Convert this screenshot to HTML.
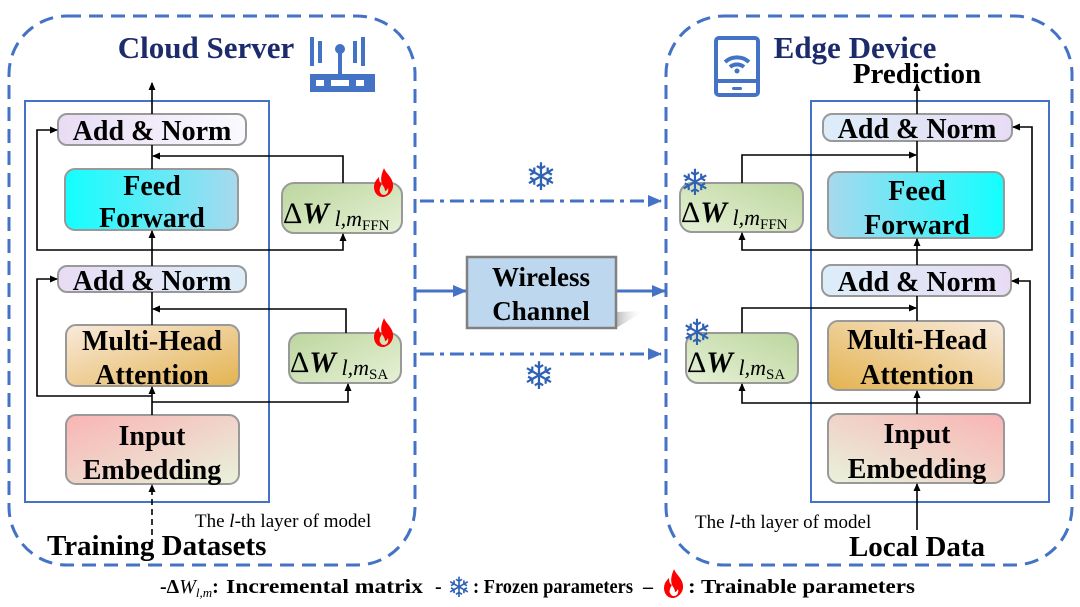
<!DOCTYPE html>
<html><head><meta charset="utf-8"><style>
html,body{margin:0;padding:0;background:#fff;}
svg{display:block;}
text{font-family:"Liberation Serif","DejaVu Serif",serif;}
.lb{font-weight:bold;font-size:28px;fill:#000;text-anchor:middle;}
.sf{font-family:"DejaVu Sans",sans-serif;fill:#2f62b4;}
</style></head><body>
<svg width="1080" height="607" viewBox="0 0 1080 607" xmlns="http://www.w3.org/2000/svg">
<defs>
<marker id="a" markerWidth="8" markerHeight="8" refX="7" refY="4" orient="auto" markerUnits="userSpaceOnUse"><path d="M0,0.5 L8,4 L0,7.5 z" fill="#000"/></marker>
<marker id="b" markerWidth="14" markerHeight="12" refX="13" refY="6" orient="auto" markerUnits="userSpaceOnUse"><path d="M0,0 L14,6 L0,12 z" fill="#4472c4"/></marker>
<linearGradient id="anL" x1="0" x2="1"><stop offset="0" stop-color="#e8dcf4"/><stop offset="1" stop-color="#fafafe"/></linearGradient>
<linearGradient id="anL2" x1="0" x2="1"><stop offset="0" stop-color="#e8dcf4"/><stop offset="1" stop-color="#dcedf8"/></linearGradient>
<linearGradient id="anR" x1="0" x2="1"><stop offset="0" stop-color="#dcedf8"/><stop offset="1" stop-color="#e8dcf4"/></linearGradient>
<linearGradient id="ffL" x1="0" x2="1"><stop offset="0" stop-color="#12ffff"/><stop offset="1" stop-color="#a8d8ee"/></linearGradient>
<linearGradient id="ffR" x1="0" x2="1"><stop offset="0" stop-color="#a8d8ee"/><stop offset="1" stop-color="#12ffff"/></linearGradient>
<linearGradient id="dwL" x1="0" y1="0" x2="1" y2="1"><stop offset="0" stop-color="#bcd69e"/><stop offset="1" stop-color="#e6f1d6"/></linearGradient>
<linearGradient id="dwR" x1="1" y1="0" x2="0" y2="1"><stop offset="0" stop-color="#bcd69e"/><stop offset="1" stop-color="#e6f1d6"/></linearGradient>
<linearGradient id="mhL" x1="0" y1="0" x2="1" y2="1"><stop offset="0" stop-color="#f8eadc"/><stop offset="1" stop-color="#e4b350"/></linearGradient>
<linearGradient id="mhR" x1="1" y1="0" x2="0" y2="1"><stop offset="0" stop-color="#f8eadc"/><stop offset="1" stop-color="#e4b350"/></linearGradient>
<linearGradient id="ieL" x1="0" y1="0" x2="1" y2="1"><stop offset="0" stop-color="#f9b4b4"/><stop offset="1" stop-color="#e8f2dc"/></linearGradient>
<linearGradient id="ieR" x1="1" y1="0" x2="0" y2="1"><stop offset="0" stop-color="#f9b4b4"/><stop offset="1" stop-color="#e8f2dc"/></linearGradient>
<linearGradient id="sh" x1="0" x2="1"><stop offset="0" stop-color="#999"/><stop offset="1" stop-color="#fff" stop-opacity="0"/></linearGradient>
<path id="fire" d="M10,0 C12,6 20,10 19,19 C18,26 12,29 9,29 C3,29 0,24 0,19 C0,14 3,11 5,9 C5,13 6,15 8,16 C6,10 8,5 10,0 z M10,27 C13,27 15,24 14,20 C13,22 12,23 11,23 C11,20 9,18 8,16 C6,19 5,22 6,24 C7,26 8,27 10,27z" fill="#f00"/>
</defs>

<rect x="9" y="16" width="406" height="549" rx="58" fill="none" stroke="#4472c4" stroke-width="3" stroke-dasharray="14 8"/>
<rect x="666" y="16" width="406" height="549" rx="58" fill="none" stroke="#4472c4" stroke-width="3" stroke-dasharray="14 8"/>
<rect x="25" y="101" width="244" height="401" fill="none" stroke="#4472c4" stroke-width="2"/>
<rect x="811" y="101" width="238" height="401" fill="none" stroke="#4472c4" stroke-width="2"/>

<text x="206" y="58" style="font-weight:bold;font-size:31px;fill:#1c2b6b;text-anchor:middle">Cloud Server</text>
<text x="855" y="58" style="font-weight:bold;font-size:31px;fill:#1c2b6b;text-anchor:middle">Edge Device</text>
<text x="917" y="83" class="lb" style="font-size:29px">Prediction</text>

<g fill="#4472c4">
<rect x="310" y="37" width="4" height="29"/><rect x="318" y="41" width="4" height="22"/>
<rect x="361" y="37" width="4" height="29"/><rect x="353" y="41" width="4" height="22"/>
<circle cx="340" cy="49" r="5"/><rect x="338" y="49" width="4" height="25"/>
<path d="M310,74 h65 v18 h-65z M316,80 v6 h8 v-6z M331,80 v6 h18 v-6z M356,80 v6 h8 v-6z" fill-rule="evenodd"/>
</g>
<g fill="none" stroke="#4472c4" stroke-width="4">
<rect x="716" y="38" width="42" height="57" rx="3"/>
<line x1="716" y1="81" x2="758" y2="81"/>
<path d="M725,62 a18,18 0 0 1 24,0"/><path d="M730,67 a11,11 0 0 1 14,0"/>
</g>
<circle cx="737" cy="71" r="2.5" fill="#4472c4"/><rect x="732" y="87" width="10" height="3" rx="1.5" fill="#4472c4"/>

<g stroke="#999" stroke-width="2">
<rect x="58" y="114" width="188" height="31" rx="9" fill="url(#anL)"/>
<rect x="65" y="169" width="173" height="61" rx="10" fill="url(#ffL)"/>
<rect x="282" y="183" width="120" height="50" rx="12" fill="url(#dwL)"/>
<rect x="58" y="266" width="188" height="26" rx="9" fill="url(#anL2)"/>
<rect x="66" y="325" width="173" height="61" rx="10" fill="url(#mhL)"/>
<rect x="289" y="333" width="112" height="50" rx="12" fill="url(#dwL)"/>
<rect x="66" y="415" width="173" height="69" rx="10" fill="url(#ieL)"/>
</g>
<text x="152" y="140" class="lb">Add &amp; Norm</text>
<text x="152" y="195" class="lb">Feed</text>
<text x="152" y="227" class="lb">Forward</text>
<text x="152" y="290" class="lb">Add &amp; Norm</text>
<text x="152" y="350" class="lb">Multi-Head</text>
<text x="152" y="384" class="lb">Attention</text>
<text x="152" y="445" class="lb">Input</text>
<text x="152" y="479" class="lb">Embedding</text>
<text x="283" y="223" style="font-size:30px"><tspan>Δ</tspan><tspan font-weight="bold" font-style="italic">W</tspan><tspan font-style="italic" font-size="22" dy="3"> l,m</tspan><tspan font-size="15" dy="4">FFN</tspan></text>
<text x="290" y="372" style="font-size:30px"><tspan>Δ</tspan><tspan font-weight="bold" font-style="italic">W</tspan><tspan font-style="italic" font-size="22" dy="3"> l,m</tspan><tspan font-size="15" dy="4">SA</tspan></text>
<use href="#fire" x="374" y="168"/>
<use href="#fire" x="374" y="318"/>

<g stroke="#000" stroke-width="1.6" fill="none">
<line x1="152" y1="114" x2="152" y2="83" marker-end="url(#a)"/>
<line x1="152" y1="169" x2="152" y2="145"/>
<polyline points="152,266 152,250 37,250 37,130 57,130" marker-end="url(#a)"/>
<polyline points="152,250 343,250 343,234" marker-end="url(#a)"/>
<line x1="152" y1="250" x2="152" y2="231" marker-end="url(#a)"/>
<polyline points="343,183 343,156 153,156" marker-end="url(#a)"/>
<line x1="152" y1="325" x2="152" y2="292"/>
<polyline points="152,396 37,396 37,279 57,279" marker-end="url(#a)"/>
<polyline points="152,402 348,402 348,384" marker-end="url(#a)"/>
<line x1="152" y1="415" x2="152" y2="387" marker-end="url(#a)"/>
<polyline points="346,333 346,309 153,309" marker-end="url(#a)"/>
<line x1="152" y1="545" x2="152" y2="485" stroke-dasharray="6 4" marker-end="url(#a)"/>
</g>
<text x="195" y="527" style="font-size:19px">The <tspan font-style="italic">l</tspan>-th layer of model</text>
<text x="47" y="555" style="font-weight:bold;font-size:29px">Training Datasets</text>

<line x1="420" y1="201" x2="661" y2="201" stroke="#4472c4" stroke-width="3" stroke-dasharray="14 6 4 6" marker-end="url(#b)"/>
<line x1="420" y1="354" x2="661" y2="354" stroke="#4472c4" stroke-width="3" stroke-dasharray="14 6 4 6" marker-end="url(#b)"/>
<text x="541" y="190" class="sf" font-size="38" text-anchor="middle">❄</text>
<text x="539" y="389" class="sf" font-size="38" text-anchor="middle">❄</text>
<line x1="415" y1="291" x2="466" y2="291" stroke="#4472c4" stroke-width="3" marker-end="url(#b)"/>
<line x1="616" y1="291" x2="665" y2="291" stroke="#4472c4" stroke-width="3" marker-end="url(#b)"/>
<path d="M616,312 L645,311 L616,328z" fill="url(#sh)" opacity="0.7"/>
<rect x="467" y="257" width="149" height="71" fill="#bdd7ee" stroke="#808080" stroke-width="2.5"/>
<text x="541" y="286" class="lb" style="font-size:27px">Wireless</text>
<text x="541" y="320" class="lb" style="font-size:27px">Channel</text>

<g stroke="#999" stroke-width="2">
<rect x="823" y="114" width="189" height="27" rx="9" fill="url(#anR)"/>
<rect x="828" y="172" width="176" height="66" rx="10" fill="url(#ffR)"/>
<rect x="680" y="183" width="123" height="49" rx="12" fill="url(#dwR)"/>
<rect x="822" y="265" width="189" height="31" rx="9" fill="url(#anR)"/>
<rect x="828" y="321" width="176" height="69" rx="10" fill="url(#mhR)"/>
<rect x="686" y="333" width="112" height="50" rx="12" fill="url(#dwR)"/>
<rect x="828" y="414" width="176" height="69" rx="10" fill="url(#ieR)"/>
</g>
<text x="917" y="138" class="lb">Add &amp; Norm</text>
<text x="917" y="200" class="lb">Feed</text>
<text x="917" y="234" class="lb">Forward</text>
<text x="917" y="291" class="lb">Add &amp; Norm</text>
<text x="917" y="349" class="lb">Multi-Head</text>
<text x="917" y="384" class="lb">Attention</text>
<text x="917" y="443" class="lb">Input</text>
<text x="917" y="478" class="lb">Embedding</text>
<text x="681" y="222" style="font-size:30px"><tspan>Δ</tspan><tspan font-weight="bold" font-style="italic">W</tspan><tspan font-style="italic" font-size="22" dy="3"> l,m</tspan><tspan font-size="15" dy="4">FFN</tspan></text>
<text x="687" y="372" style="font-size:30px"><tspan>Δ</tspan><tspan font-weight="bold" font-style="italic">W</tspan><tspan font-style="italic" font-size="22" dy="3"> l,m</tspan><tspan font-size="15" dy="4">SA</tspan></text>
<text x="695" y="195" class="sf" font-size="36" text-anchor="middle">❄</text>
<text x="697" y="345" class="sf" font-size="36" text-anchor="middle">❄</text>

<g stroke="#000" stroke-width="1.6" fill="none">
<line x1="917" y1="114" x2="917" y2="84" marker-end="url(#a)"/>
<line x1="917" y1="172" x2="917" y2="141"/>
<polyline points="917,265 917,250 1032,250 1032,127 1013,127" marker-end="url(#a)"/>
<polyline points="917,250 742,250 742,233" marker-end="url(#a)"/>
<line x1="917" y1="250" x2="917" y2="239" marker-end="url(#a)"/>
<polyline points="742,183 742,155 916,155" marker-end="url(#a)"/>
<line x1="917" y1="321" x2="917" y2="296"/>
<polyline points="917,403 1030,403 1030,281 1012,281" marker-end="url(#a)"/>
<polyline points="917,403 742,403 742,384" marker-end="url(#a)"/>
<line x1="917" y1="414" x2="917" y2="391" marker-end="url(#a)"/>
<polyline points="742,333 742,308 916,308" marker-end="url(#a)"/>
<line x1="917" y1="530" x2="917" y2="484" marker-end="url(#a)"/>
</g>
<text x="695" y="528" style="font-size:19px">The <tspan font-style="italic">l</tspan>-th layer of model</text>
<text x="917" y="556" class="lb" style="font-size:29px">Local Data</text>

<text x="160" y="593" style="font-weight:bold;font-size:20px">-Δ<tspan font-style="italic" font-weight="normal">W</tspan><tspan font-style="italic" font-weight="normal" font-size="13" dy="4">l,m</tspan><tspan dy="-4">:</tspan></text>
<text x="226" y="593" style="font-weight:bold;font-size:20px" textLength="197" lengthAdjust="spacingAndGlyphs">Incremental matrix</text>
<text x="435" y="593" style="font-weight:bold;font-size:20px">-</text>
<text x="459" y="597" class="sf" font-size="28" text-anchor="middle">❄</text>
<text x="473" y="593" style="font-weight:bold;font-size:20px" textLength="160" lengthAdjust="spacingAndGlyphs">: Frozen parameters</text>
<text x="643" y="593" style="font-weight:bold;font-size:20px">–</text>
<use href="#fire" transform="translate(664,569) scale(1)"/>
<text x="688" y="593" style="font-weight:bold;font-size:20px" textLength="227" lengthAdjust="spacingAndGlyphs">: Trainable parameters</text>
</svg>
</body></html>
